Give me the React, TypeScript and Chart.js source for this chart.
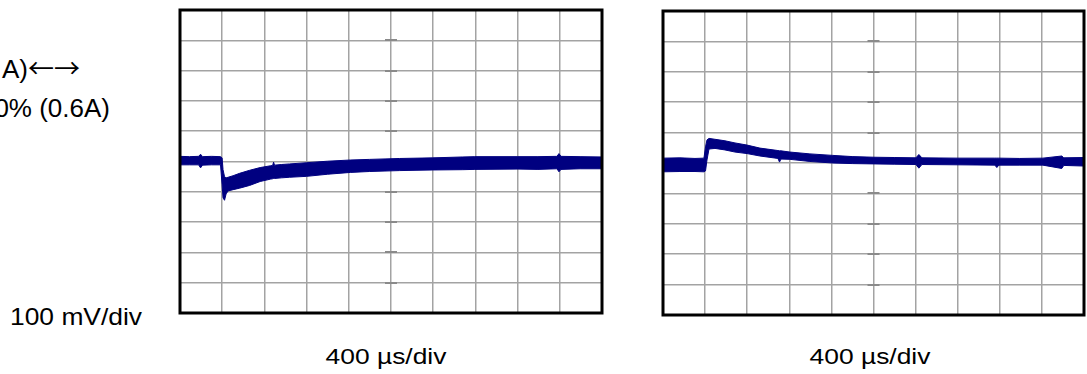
import React, { useEffect, useRef } from "react";
import { Chart, registerables } from "chart.js";

Chart.register(...registerables);

// ---- data (time in µs, voltage deviation in mV) ----
const leftTime = [0, 90, 176, 195, 214, 299, 384, 399, 408, 422, 437, 456, 503, 565, 660, 760, 860, 878, 887, 896, 960, 1039, 1200, 1400, 1618, 1798, 2083, 2396, 2681, 2795, 3203, 3393, 3573, 3592, 3611, 3792, 4000];
const leftUpper = [17, 16, 17, 24, 16, 17, 16, 12, -27, -50, -54, -52, -47, -39, -29, -20, -14, -13, -2, -12, -10, -8, -4, 1, 5, 7, 10, 12, 15, 16, 16, 16, 17, 26, 17, 16, 15];
const leftLower = [-11, -11, -11, -21, -12, -11, -11, -77, -120, -128, -107, -97, -93, -88, -79, -66, -58, -57, -56, -56, -54, -52, -49, -42, -36, -33, -30, -28, -27, -26, -25, -26, -24, -34, -26, -24, -24];

const rightTime = [0, 161, 304, 389, 404, 418, 437, 494, 589, 684, 798, 921, 1092, 1107, 1121, 1206, 1396, 1614, 1804, 2004, 2203, 2403, 2431, 2460, 2802, 3153, 3172, 3191, 3390, 3609, 3789, 3808, 4000];
const rightUpper = [16, 17, 15, 16, 53, 76, 81, 78, 73, 66, 59, 49, 41, 40, 40, 36, 30, 25, 21, 19, 18, 17, 28, 17, 16, 16, 16, 16, 15, 16, 23, 17, 18];
const rightLower = [-29, -28, -28, -29, -26, 10, 46, 48, 43, 36, 31, 23, 15, 3, 13, 12, 5, 0, -2, -3, -4, -5, -17, -5, -6, -7, -15, -7, -7, -7, -18, -8, -10];

const xMin = 0;
const xMax = 4000;
const xStep = 400; // µs per division
const yMin = -500;
const yMax = 500;
const yStep = 100; // mV per division

const timeLabel = "400 µs/div";
const voltLabel = "100 mV/div";
const noteLine1Text = "A)";
const noteLine1Arrows = "←→";
const noteLine2 = "0% (0.6A)";

const TRACE = "#000080";
const GRID = "#a3a3a3";
const PAD = 6;
const FONT = '"Liberation Sans", Arial, Helvetica, sans-serif';

const scopePlugin = {
  id: "scopeDecor",
  beforeDatasetsDraw(chart: any) {
    const { ctx, scales } = chart;
    const cx = scales.x.getPixelForValue((xMin + xMax) / 2);
    ctx.save();
    ctx.strokeStyle = "#8a8a8a";
    ctx.lineWidth = 2;
    for (let v = yMin + yStep; v < yMax; v += yStep) {
      const py = Math.round(scales.y.getPixelForValue(v));
      ctx.beginPath();
      ctx.moveTo(cx - 6, py);
      ctx.lineTo(cx + 6, py);
      ctx.stroke();
    }
    ctx.restore();
  },
  afterDatasetsDraw(chart: any) {
    const { ctx, chartArea: a } = chart;
    ctx.save();
    ctx.strokeStyle = "#000";
    ctx.lineWidth = 3;
    ctx.strokeRect(a.left, a.top, a.right - a.left, a.bottom - a.top);
    ctx.restore();
  },
};

function Scope(props: { time: number[]; upper: number[]; lower: number[]; left: number; top: number; w: number; h: number }) {
  const ref = useRef<HTMLCanvasElement>(null);
  const { time, upper, lower, left, top, w, h } = props;
  useEffect(() => {
    const gridOpts = { color: GRID, lineWidth: 1.5, drawTicks: false };
    const chart = new Chart(ref.current as HTMLCanvasElement, {
      type: "line",
      data: {
        datasets: [
          {
            data: time.map((t, i) => ({ x: t, y: upper[i] })),
            borderColor: TRACE,
            borderWidth: 1,
            borderJoinStyle: "round",
            pointRadius: 0,
            fill: false,
            tension: 0,
          },
          {
            data: time.map((t, i) => ({ x: t, y: lower[i] })),
            borderColor: TRACE,
            borderWidth: 1,
            borderJoinStyle: "round",
            pointRadius: 0,
            fill: "-1",
            backgroundColor: TRACE,
            tension: 0,
          },
        ],
      },
      options: {
        responsive: false,
        animation: false,
        events: [],
        layout: { padding: PAD },
        plugins: { legend: { display: false }, tooltip: { enabled: false } },
        scales: {
          x: {
            type: "linear",
            min: xMin,
            max: xMax,
            ticks: { display: false, stepSize: xStep },
            grid: gridOpts,
            border: { display: false },
          },
          y: {
            type: "linear",
            min: yMin,
            max: yMax,
            ticks: { display: false, stepSize: yStep },
            grid: gridOpts,
            border: { display: false },
          },
        },
      } as any,
      plugins: [scopePlugin],
    });
    return () => chart.destroy();
  }, []);
  return (
    <canvas
      ref={ref}
      width={w}
      height={h}
      style={{ position: "absolute", left, top, width: w, height: h }}
    />
  );
}

const textBase: React.CSSProperties = {
  position: "absolute",
  fontFamily: FONT,
  color: "#000",
  whiteSpace: "nowrap",
  lineHeight: 1,
};

export default function App() {
  return (
    <div
      style={{
        position: "fixed",
        left: 0,
        top: 0,
        width: 1087,
        height: 374,
        background: "#fff",
        overflow: "hidden",
      }}
    >
      <Scope time={leftTime} upper={leftUpper} lower={leftLower} left={180 - PAD} top={10 - PAD} w={422 + 2 * PAD} h={303 + 2 * PAD} />
      <Scope time={rightTime} upper={rightUpper} lower={rightLower} left={663 - PAD} top={11 - PAD} w={421 + 2 * PAD} h={304 + 2 * PAD} />

      <div style={{ ...textBase, fontSize: 26, right: 1087 - 80, top: 54, textAlign: "right" }}>
        {noteLine1Text}
        <span style={{ fontFamily: '"Noto Sans CJK SC", "DejaVu Sans", sans-serif', fontSize: 26 }}>{noteLine1Arrows}</span>
      </div>
      <div style={{ ...textBase, fontSize: 26, right: 1087 - 110, top: 95, textAlign: "right" }}>{noteLine2}</div>

      <div style={{ ...textBase, fontSize: 24, left: 10, top: 304.7, transform: "scaleX(1.1)", transformOrigin: "left top" }}>{voltLabel}</div>

      <div style={{ ...textBase, fontSize: 22, left: 386 - 150, width: 300, top: 345.7, textAlign: "center", transform: "scaleX(1.2)", transformOrigin: "center top" }}>{timeLabel}</div>
      <div style={{ ...textBase, fontSize: 22, left: 870 - 150, width: 300, top: 345.7, textAlign: "center", transform: "scaleX(1.2)", transformOrigin: "center top" }}>{timeLabel}</div>
    </div>
  );
}
